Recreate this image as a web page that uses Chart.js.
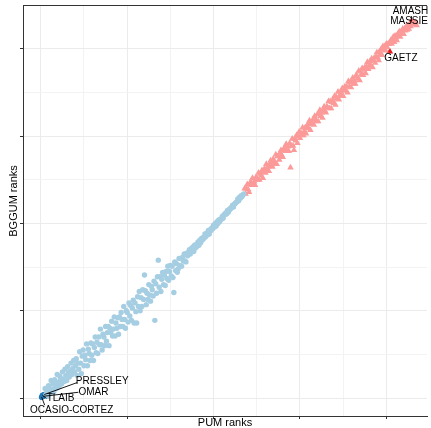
<!DOCTYPE html>
<html>
<head>
<meta charset="utf-8">
<script src="https://cdn.jsdelivr.net/npm/chart.js@4.4.1/dist/chart.umd.min.js"></script>
<style>
  html, body { margin: 0; padding: 0; background: #fff; }
  #wrap { width: 431px; height: 428px; }
</style>
</head>
<body>
<div id="wrap"><canvas id="rankChart"></canvas></div>
<script>
// Democrats (light blue circles): PUM rank vs BGGUM rank
const demPum = [
  5, 6, 7, 8, 9, 10, 11, 12, 13, 14, 15, 16, 17, 18, 19, 20, 21, 22, 23, 24,
  25, 26, 27, 28, 29, 30, 31, 32, 33, 34, 35, 36, 37, 38, 39, 40, 41, 42, 43, 44,
  45, 46, 47, 48, 49, 50, 51, 52, 53, 54, 55, 56, 57, 58, 59, 60, 61, 62, 63, 64,
  65, 66, 67, 68, 69, 70, 71, 72, 73, 74, 75, 76, 77, 78, 79, 80, 81, 82, 83, 84,
  85, 86, 87, 88, 89, 90, 91, 92, 93, 94, 95, 96, 97, 98, 99, 100, 101, 102, 103, 104,
  105, 106, 107, 108, 109, 110, 111, 112, 113, 114, 115, 116, 117, 118, 119, 120, 121, 122, 123, 124,
  125, 126, 127, 128, 129, 130, 131, 132, 133, 134, 135, 136, 137, 138, 139, 140, 141, 142, 143, 144,
  145, 146, 147, 148, 149, 150, 151, 152, 153, 154, 155, 156, 157, 158, 159, 160, 161, 162, 163, 164,
  165, 166, 167, 168, 169, 170, 171, 172, 173, 174, 175, 176, 177, 178, 179, 180, 181, 182, 183, 184,
  185, 186, 187, 188, 189, 190, 191, 192, 193, 194, 195, 196, 197, 198, 199, 200, 201, 202, 203, 204,
  205, 206, 207, 208, 209, 210, 211, 212, 213, 214, 215, 216, 217, 218, 219, 220, 221, 222, 223, 224,
  225, 226, 227, 228, 229, 230, 231, 232, 233, 234, 235
];
const demBggum = [
  11, 4, 9, 2, 14, 8, 5, 20, 10, 16, 7, 21, 15, 11, 27, 18, 13, 25, 21, 16,
  30, 22, 19, 33, 26, 20, 36, 29, 24, 31, 40, 27, 34, 43, 30, 37, 45, 26, 40, 33,
  53, 40, 28, 48, 55, 37, 49, 44, 62, 37, 56, 51, 43, 63, 49, 62, 43, 58, 70, 52,
  64, 51, 70, 61, 79, 61, 55, 73, 70, 60, 82, 65, 75, 82, 60, 80, 75, 88, 71, 79,
  93, 71, 86, 80, 92, 73, 93, 82, 98, 90, 82, 105, 90, 80, 100, 98, 87, 109, 94, 106,
  89, 103, 112, 86, 109, 99, 86, 116, 105, 122, 100, 115, 105, 124, 113, 141, 123, 107, 120, 113,
  130, 118, 111, 128, 124, 117, 134, 89, 131, 120, 139, 158, 127, 139, 122, 136, 144, 130, 141, 129,
  145, 137, 151, 135, 145, 152, 140, 151, 138, 121, 156, 146, 154, 144, 148, 160, 152, 160, 151, 161,
  157, 165, 157, 156, 166, 163, 167, 170, 165, 171, 168, 173, 168, 175, 172, 176, 174, 179, 175, 181,
  178, 183, 181, 184, 183, 188, 185, 189, 187, 192, 188, 193, 192, 195, 194, 198, 196, 200, 197, 202,
  200, 204, 202, 205, 205, 208, 206, 210, 210, 212, 211, 215, 213, 216, 216, 218, 218, 221, 219, 222,
  223, 224, 225, 228, 226, 230, 229, 232, 231, 233, 234
];

// Republicans (light red triangles)
const repPum = [
  236, 237, 238, 239, 240, 241, 242, 243, 244, 245, 246, 247, 248, 249, 250, 251, 252, 253, 254, 255,
  256, 257, 258, 259, 260, 261, 262, 263, 264, 265, 266, 267, 268, 269, 270, 271, 272, 273, 274, 275,
  276, 277, 278, 279, 280, 281, 282, 283, 284, 285, 286, 287, 288, 289, 290, 291, 292, 293, 294, 295,
  296, 297, 298, 299, 300, 301, 302, 303, 304, 305, 306, 307, 308, 309, 310, 311, 312, 313, 314, 315,
  316, 317, 318, 319, 320, 321, 322, 323, 324, 325, 326, 327, 328, 329, 330, 331, 332, 333, 334, 335,
  336, 337, 338, 339, 340, 341, 342, 343, 344, 345, 346, 347, 348, 349, 350, 351, 352, 353, 354, 355,
  356, 357, 358, 359, 360, 361, 362, 363, 364, 365, 366, 367, 368, 369, 370, 371, 372, 373, 374, 375,
  376, 377, 378, 379, 380, 381, 382, 383, 384, 385, 386, 387, 388, 389, 390, 391, 392, 393, 394, 395,
  396, 397, 398, 399, 400, 401, 402, 403, 405, 406, 407, 408, 409, 410, 411, 412, 413, 414, 415, 416,
  417, 418, 419, 420, 421, 422, 423, 424, 425, 426, 427, 428, 430, 431, 433, 434, 435
];
const repBggum = [
  240, 234, 240, 245, 239, 236, 245, 248, 244, 252, 244, 248, 244, 253, 252, 250, 258, 250, 257, 255,
  261, 252, 259, 263, 258, 268, 261, 265, 260, 268, 272, 267, 265, 274, 271, 269, 279, 268, 277, 277,
  273, 281, 284, 278, 276, 284, 287, 283, 291, 283, 288, 283, 292, 264, 289, 297, 289, 284, 297, 295,
  301, 292, 300, 305, 298, 304, 301, 310, 301, 306, 310, 303, 310, 314, 309, 318, 307, 316, 314, 319,
  313, 323, 319, 317, 325, 317, 325, 330, 323, 327, 321, 331, 334, 329, 327, 334, 333, 340, 332, 340,
  332, 339, 342, 338, 346, 336, 345, 343, 351, 342, 347, 351, 346, 355, 346, 353, 357, 352, 357, 350,
  363, 357, 362, 356, 362, 367, 360, 364, 360, 370, 369, 366, 375, 364, 374, 371, 378, 370, 376, 379,
  372, 380, 385, 377, 381, 386, 381, 389, 379, 387, 390, 384, 391, 396, 390, 387, 397, 394, 400, 393,
  403, 399, 403, 398, 406, 402, 406, 406, 410, 406, 411, 414, 408, 415, 413, 410, 417, 415, 420, 414,
  420, 418, 423, 417, 423, 421, 426, 422, 427, 423, 428, 426, 428, 430, 429, 431, 427
];

// Highlighted members
const labelNames = ['OCASIO-CORTEZ', 'TLAIB', 'OMAR', 'PRESSLEY', 'AMASH', 'MASSIE', 'GAETZ'];
const labelPum = [1, 2, 3, 4, 429, 432, 404];
const labelBggum = [1, 3, 2, 4, 432, 429, 397];
const labelParty = ['D', 'D', 'D', 'D', 'R', 'R', 'R'];

// where each label text sits relative to its point (pixels), and optional leader line end
const labelPlacement = [
  { dx: 30, dy: 13, line: [3, 8] },
  { dx: 18, dy: 3, line: [4, 3] },
  { dx: 50, dy: -4, line: [35, -4] },
  { dx: 58, dy: -13, line: [33, -12] },
  { dx: -1, dy: -10, line: [0, -5] },
  { dx: -5, dy: -2, line: null },
  { dx: 11, dy: 7, line: null }
];

const fontFamily = '"Liberation Sans", Arial, Helvetica, sans-serif';
Chart.defaults.font.family = fontFamily;

const toPoints = (xs, ys) => xs.map((v, i) => ({ x: v, y: ys[i] }));
const pick = party => labelNames.map((n, i) => i).filter(i => labelParty[i] === party);

const isMajor = ctx => ctx.tick && Math.abs(ctx.tick.value % 100) < 1e-6;

const gridOpts = {
  color: ctx => isMajor(ctx) ? '#ebebeb' : '#f3f3f3',
  lineWidth: 1,
  drawTicks: true,
  tickLength: 3,
  tickColor: ctx => isMajor(ctx) ? '#333333' : 'rgba(0,0,0,0)'
};

const labelPlugin = {
  id: 'memberLabels',
  afterDatasetsDraw(chart) {
    const { ctx, chartArea, scales: { x, y } } = chart;
    ctx.save();
    // top edge of the panel border
    ctx.strokeStyle = '#333333';
    ctx.lineWidth = 1;
    ctx.beginPath();
    ctx.moveTo(chartArea.left, chartArea.top + 0.5);
    ctx.lineTo(chartArea.right, chartArea.top + 0.5);
    ctx.stroke();

    // y axis title
    ctx.save();
    ctx.translate(14, 201);
    ctx.rotate(-Math.PI / 2);
    ctx.font = '11px ' + fontFamily;
    ctx.fillStyle = '#000';
    ctx.textAlign = 'center';
    ctx.textBaseline = 'middle';
    ctx.fillText('BGGUM ranks', 0, 0);
    ctx.restore();

    ctx.font = '10px ' + fontFamily;
    ctx.fillStyle = '#000';
    ctx.strokeStyle = '#000';
    ctx.lineWidth = 0.9;
    ctx.textAlign = 'center';
    ctx.textBaseline = 'middle';
    labelNames.forEach((name, i) => {
      const px = x.getPixelForValue(labelPum[i]);
      const py = y.getPixelForValue(labelBggum[i]);
      const p = labelPlacement[i];
      if (p.line) {
        ctx.beginPath();
        ctx.moveTo(px, py);
        ctx.lineTo(px + p.line[0], py + p.line[1]);
        ctx.stroke();
      }
      ctx.fillText(name, px + p.dx, py + p.dy);
    });
    ctx.restore();
  }
};

const demIdx = pick('D');
const repIdx = pick('R');

new Chart(document.getElementById('rankChart'), {
  type: 'scatter',
  data: {
    datasets: [
      {
        label: 'Democrats',
        data: toPoints(demPum, demBggum),
        pointStyle: 'circle',
        pointRadius: 2.7,
        backgroundColor: '#a6cee3',
        borderWidth: 0
      },
      {
        label: 'Republicans',
        data: toPoints(repPum, repBggum),
        pointStyle: 'triangle',
        pointRadius: 3.8,
        backgroundColor: '#fb9a99',
        borderWidth: 0
      },
      {
        label: 'Highlighted D',
        data: demIdx.map(i => ({ x: labelPum[i], y: labelBggum[i] })),
        pointStyle: 'circle',
        pointRadius: 2.8,
        backgroundColor: '#1f78b4',
        borderWidth: 0
      },
      {
        label: 'Highlighted R',
        data: repIdx.map(i => ({ x: labelPum[i], y: labelBggum[i] })),
        pointStyle: 'triangle',
        pointRadius: 3.8,
        backgroundColor: '#e31a1c',
        borderWidth: 0
      }
    ]
  },
  options: {
    responsive: true,
    maintainAspectRatio: false,
    animation: false,
    layout: { padding: { top: 5, left: 0, right: 0, bottom: 0 } },
    plugins: { legend: { display: false }, tooltip: { enabled: false } },
    scales: {
      x: {
        type: 'linear',
        min: -20.6,
        max: 447,
        ticks: { display: false, stepSize: 50, includeBounds: false },
        grid: gridOpts,
        border: { color: '#333333', width: 1 },
        title: { display: true, text: 'PUM ranks', color: '#000', font: { size: 11, lineHeight: 1 }, padding: { top: 0, bottom: 0 } },
        afterFit(scale) { scale.height = 12; }
      },
      y: {
        type: 'linear',
        min: -20.6,
        max: 450.4,
        ticks: { display: false, stepSize: 50, includeBounds: false },
        grid: gridOpts,
        border: { color: '#333333', width: 1 },
        title: { display: false },
        afterFit(scale) { scale.width = 23; }
      }
    }
  },
  plugins: [labelPlugin]
});
</script>
</body>
</html>
